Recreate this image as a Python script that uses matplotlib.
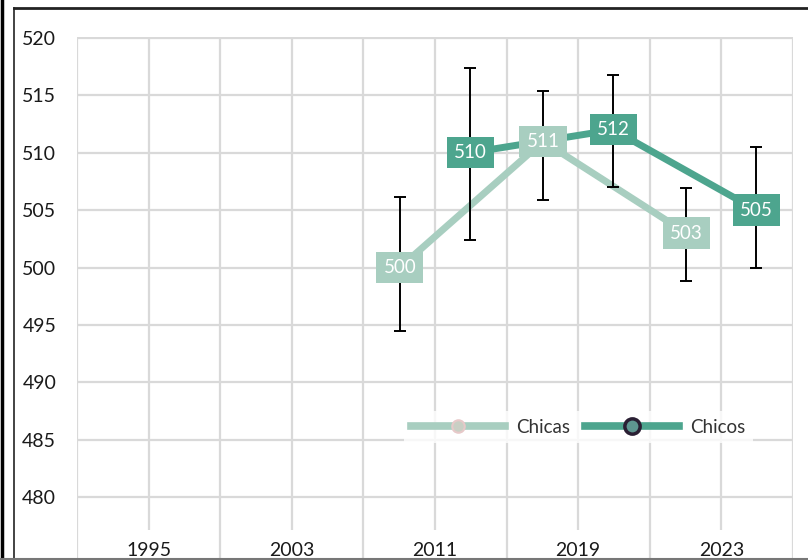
import numpy as np
import matplotlib
matplotlib.use("Agg")
import matplotlib.pyplot as plt
from matplotlib.lines import Line2D

plt.rcParams["font.family"] = ["Lato", "DejaVu Sans"]

# Data
years = ["1995", "2003", "2011", "2019", "2023"]
data_years = ["2011", "2019", "2023"]
chicas = [500, 511, 503]
chicas_low = [494.5, 505.9, 498.8]
chicas_high = [506.1, 515.4, 506.9]
chicos = [510, 512, 505]
chicos_low = [502.4, 507.0, 500.0]
chicos_high = [517.4, 516.8, 510.5]
y_ticks = [480, 485, 490, 495, 500, 505, 510, 515, 520]

CHICAS_COLOR = "#a8cec0"
CHICOS_COLOR = "#4da58e"
GRID_COLOR = "#d9d9d9"

fig = plt.figure(figsize=(8.08, 5.6), dpi=100)
W, H = 808, 560
# plot area in pixels: x 77..793, y 37..560 (cut off at bottom)
ax = fig.add_axes([77 / W, 0, (793 - 77) / W, (560 - 37) / H])

ax.set_xlim(-0.5, len(years) - 0.5)
ax.set_ylim(474.52, 520.08)
for s in ax.spines.values():
    s.set_visible(False)

# horizontal gridlines
ax.hlines(y_ticks, -0.5, len(years) - 0.5, color=GRID_COLOR, lw=1.6, zorder=0)
# category boundaries run full height, centre lines stop short
bounds = np.arange(len(years) + 1) - 0.5
ax.vlines(bounds, 474.52, 520, color=GRID_COLOR, lw=1.6, zorder=0)
ax.vlines(np.arange(len(years)), 477.1, 520, color=GRID_COLOR, lw=1.6, zorder=0)

ax.set_yticks(y_ticks)
ax.set_yticklabels([str(v) for v in y_ticks], fontsize=14, color="#1a1a1a")
ax.set_xticks(range(len(years)))
ax.set_xticklabels(years, fontsize=14, color="#1a1a1a")
ax.tick_params(axis="y", length=0, pad=15)
ax.tick_params(axis="x", length=0, pad=-13)

idx = [years.index(y) for y in data_years]
x_chicas = np.array(idx) - 0.245
x_chicos = np.array(idx) + 0.245


def draw_series(xs, vals, low, high, color, label, zl):
    vals = np.array(vals)
    ax.plot(xs, vals, color=color, lw=5, solid_capstyle="butt", zorder=zl, label=label)
    yerr = [vals - np.array(low), np.array(high) - vals]
    ax.errorbar(xs, vals, yerr=yerr, fmt="none", ecolor="black", elinewidth=1.4,
                capsize=4, capthick=1.4, zorder=zl + 1)
    # value boxes sit above every line
    for x, v in zip(xs, vals):
        ax.text(x, v, str(v), ha="center", va="center", color="white", fontsize=13.5,
                zorder=20 + zl,
                bbox=dict(boxstyle="square,pad=0.38", fc=color, ec="none"))


draw_series(x_chicas, chicas, chicas_low, chicas_high, CHICAS_COLOR, "Chicas", 3)
draw_series(x_chicos, chicos, chicos_low, chicos_high, CHICOS_COLOR, "Chicos", 6)

handles = [
    Line2D([0], [0], color=CHICAS_COLOR, lw=5.5, marker="o", markersize=9,
           markerfacecolor="#c9cfc4", markeredgecolor="#e7c9c9", markeredgewidth=1.5),
    Line2D([0], [0], color=CHICOS_COLOR, lw=5.5, marker="o", markersize=11,
           markerfacecolor="#5e9690", markeredgecolor="#2a1f33", markeredgewidth=2.5),
]
leg = ax.legend(handles, ["Chicas", "Chicos"], ncol=2, loc="center",
                bbox_to_anchor=(0.70, 0.254), frameon=True, fancybox=False,
                handlelength=5.0, columnspacing=0.8, handletextpad=0.6,
                fontsize=13.5, borderpad=0.4)
leg.get_frame().set_facecolor("white")
leg.get_frame().set_edgecolor("none")
for t in leg.get_texts():
    t.set_color("#333333")
leg.set_zorder(40)

# outer frame of the screenshot
fig.add_artist(Line2D([1.5 / W, 1.5 / W], [0, 1], color="black", lw=2.5))
fig.add_artist(Line2D([14 / W, 14 / W], [0, 1 - 8 / H], color="#222222", lw=1.2))
fig.add_artist(Line2D([14 / W, 1], [1 - 8 / H, 1 - 8 / H], color="#222222", lw=2.0))
fig.add_artist(Line2D([0, 1], [1.5 / H, 1.5 / H], color="#777777", lw=1.5))

fig.savefig("out.png", dpi=100)
